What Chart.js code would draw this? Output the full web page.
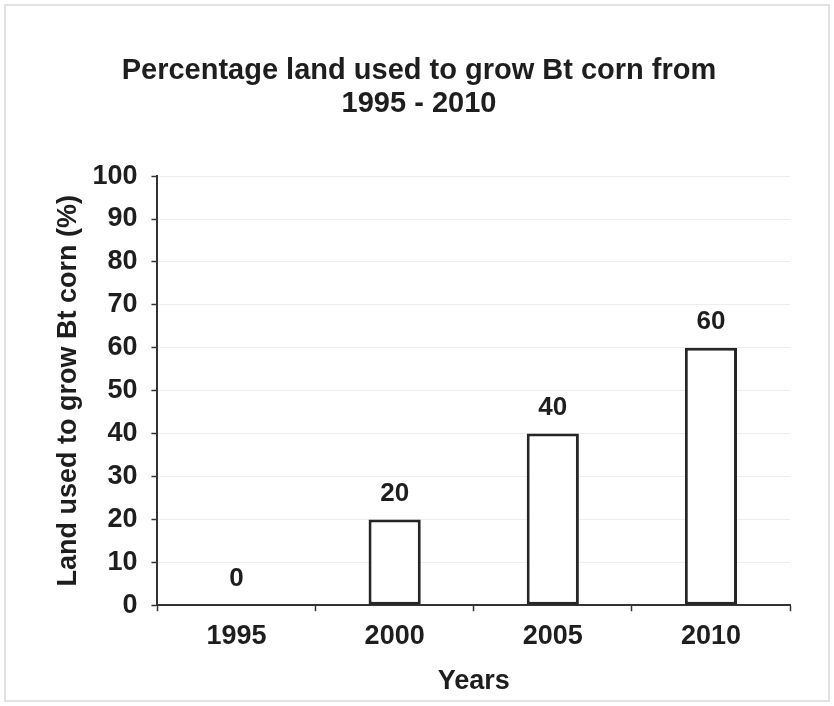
<!DOCTYPE html>
<html>
<head>
<meta charset="utf-8">
<script src="https://cdn.jsdelivr.net/npm/chart.js@4"></script>
<style>
  html, body { margin: 0; padding: 0; background: #fff; }
  canvas { display: block; }
</style>
</head>
<body>
<canvas id="myChart" width="834" height="706"></canvas>
<script>
// Bt corn land use chart

const years = ['1995', '2000', '2005', '2010'];      // x-axis categories
const landUsed = [0, 20, 40, 60];                    // % of land used
const yTicks = [0, 10, 20, 30, 40, 50, 60, 70, 80, 90, 100];

const ink = '#1e1e1e';
const fontName = "'Liberation Sans', Arial, sans-serif";

// faint frame round the whole picture
const frame = {
    id: 'frame',
    beforeDraw(chart) {
        const c = chart.ctx;
        c.save();
        c.strokeStyle = '#e2e2e2';
        c.lineWidth = 2;
        c.strokeRect(5, 5, chart.width - 10, chart.height - 10);
        c.restore();
    }
};

// draws the value above every bar
const valueLabels = {
    id: 'valueLabels',
    afterDatasetsDraw(chart) {
        const c = chart.ctx;
        const meta = chart.getDatasetMeta(0);
        c.save();
        c.font = 'bold 26px ' + fontName;
        c.fillStyle = ink;
        c.textAlign = 'center';
        c.textBaseline = 'middle';
        meta.data.forEach((bar, i) => {
            c.fillText(String(landUsed[i]), bar.x, bar.y - 26);
        });
        c.restore();
    }
};

const ctx = document.getElementById('myChart');
const myChart = new Chart(ctx, {
    type: 'bar',
    data: {
        labels: years,
        datasets: [{
            label: 'Land used',
            data: landUsed,
            backgroundColor: '#ffffff',
            borderColor: '#262626',
            borderWidth: 3,
            borderSkipped: false,
            barPercentage: 0.33,
            categoryPercentage: 1
        }]
    },
    options: {
        responsive: false,
        animation: false,
        layout: {
            padding: { top: 44, left: 48, right: 44, bottom: 8 }
        },
        plugins: {
            legend: { display: false },
            tooltip: { enabled: false },
            title: {
                display: true,
                text: ['Percentage land used to grow Bt corn from', '1995 - 2010'],
                color: ink,
                font: { family: fontName, size: 29, weight: 'bold', lineHeight: 1.14 },
                padding: { top: 10, bottom: 56 }
            }
        },
        scales: {
            x: {
                grid: {
                    display: true,
                    drawOnChartArea: false,
                    tickColor: '#333',
                    tickLength: 6,
                    tickWidth: 1.5
                },
                border: { color: '#333', width: 2 },
                ticks: {
                    color: ink,
                    padding: 9,
                    font: { family: fontName, size: 27, weight: 'bold' }
                },
                title: {
                    display: true,
                    text: 'Years',
                    color: ink,
                    font: { family: fontName, size: 27, weight: 'bold' },
                    padding: { top: 4, bottom: 0 }
                }
            },
            y: {
                min: 0,
                max: 100,
                afterBuildTicks: axis => { axis.ticks = yTicks.map(v => ({ value: v })); },
                grid: {
                    color: '#eeeeee',
                    tickColor: '#333',
                    tickLength: 6,
                    tickWidth: 1.5
                },
                border: { color: '#333', width: 2 },
                ticks: {
                    color: ink,
                    padding: 14,
                    font: { family: fontName, size: 27, weight: 'bold' }
                },
                title: {
                    display: true,
                    text: 'Land used to grow Bt corn (%)',
                    color: ink,
                    font: { family: fontName, size: 27, weight: 'bold' },
                    padding: { top: 4, bottom: -6 }
                }
            }
        }
    },
    plugins: [frame, valueLabels]
});
</script>
</body>
</html>
